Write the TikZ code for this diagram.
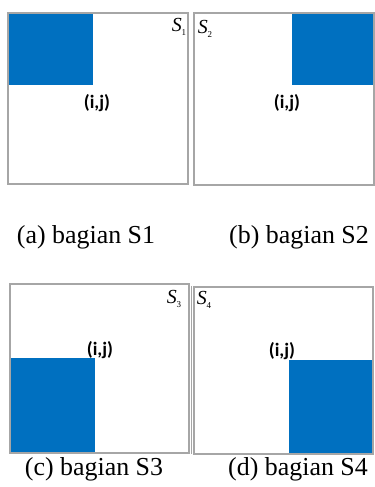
\documentclass[tikz,border=0pt]{standalone}
\usepackage{fontspec}
\setmainfont{Liberation Serif}
\newfontfamily\calfont{Carlito}
\usetikzlibrary{positioning}
\definecolor{partblue}{HTML}{0070C0}
\definecolor{framegray}{HTML}{A6A6A6}
\newcommand{\slab}[1]{{\fontsize{20}{20}\selectfont\itshape S}\lower4pt\hbox{\fontsize{9}{9}\selectfont #1}}

\begin{document}
\begin{tikzpicture}[
    x=1bp, y=-1bp,
    panel/.style={draw=framegray, line width=1.4bp},
    part/.style={fill=partblue},
    ij/.style={font=\calfont\bfseries\fontsize{19}{19}\selectfont, inner sep=0pt},
    slabel/.style={inner sep=0pt},
    caption/.style={font=\fontsize{26}{28}\selectfont, inner sep=0pt}
]
  \useasboundingbox (0,0) rectangle (374,487);

  % (a) S1
  \fill[part] (8,13) rectangle (93,85);
  \draw[panel] (8,13) rectangle (188,184);
  \node[ij] (ij1) at (97,103) {(i,j)};
  \node[slabel] (s1) at (179,27) {\slab{1}};
  \node[caption] (capa) at (86,237) {(a) bagian S1};

  % (b) S2
  \fill[part] (292,13) rectangle (374,85);
  \draw[panel] (194,13) rectangle (374,185);
  \node[ij] (ij2) at (287,103) {(i,j)};
  \node[slabel] (s2) at (205,29) {\slab{2}};
  \node[caption] (capb) at (299,237) {(b) bagian S2};

  % (c) S3
  \fill[part] (10,358) rectangle (95,453);
  \draw[panel] (10,284) rectangle (189,453);
  \node[ij] (ij3) at (100,350) {(i,j)};
  \node[slabel] (s3) at (174,299) {\slab{3}};
  \node[caption] (capc) at (94,469) {(c) bagian S3};

  % (d) S4
  \fill[part] (289,360) rectangle (373,454);
  \draw[panel] (194,287) rectangle (373,454);
  \draw[panel] (191.5,286) -- (191.5,454);
  \node[ij] (ij4) at (282,351) {(i,j)};
  \node[slabel] (s4) at (204,300) {\slab{4}};
  \node[caption] (capd) at (298,469) {(d) bagian S4};
\end{tikzpicture}
\end{document}
